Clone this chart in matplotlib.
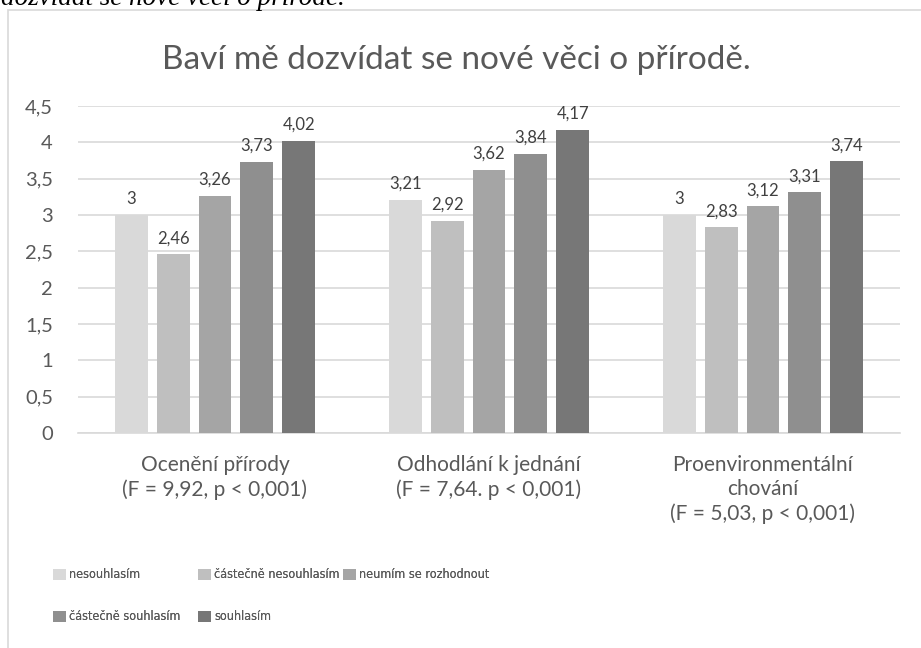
import numpy as np
import matplotlib.pyplot as plt
from matplotlib.patches import Rectangle

categories = ["Ocenění přírody\n(F = 9,92, p < 0,001)",
              "Odhodlání k jednání\n(F = 7,64. p < 0,001)",
              "Proenvironmentální\nchování\n(F = 5,03, p < 0,001)"]
series = ["nesouhlasím", "částečně nesouhlasím", "neumím se rozhodnout",
          "částečně souhlasím", "souhlasím"]
values = [
    [3, 3.21, 3],
    [2.46, 2.92, 2.83],
    [3.26, 3.62, 3.12],
    [3.73, 3.84, 3.31],
    [4.02, 4.17, 3.74],
]
labels = [
    ["3", "3,21", "3"],
    ["2,46", "2,92", "2,83"],
    ["3,26", "3,62", "3,12"],
    ["3,73", "3,84", "3,31"],
    ["4,02", "4,17", "3,74"],
]
colors = ["#d9d9d9", "#bfbfbf", "#a5a5a5", "#8f8f8f", "#777777"]
yticks = [0, 0.5, 1, 1.5, 2, 2.5, 3, 3.5, 4, 4.5]
ytick_labels = ["0", "0,5", "1", "1,5", "2", "2,5", "3", "3,5", "4", "4,5"]

plt.rcParams['font.family'] = ['Lato', 'DejaVu Sans']

fig = plt.figure(figsize=(9.21, 6.48), dpi=100)
ax = fig.add_axes([78 / 921, 1 - 433 / 648, 822 / 921, 327 / 648])

# chart frame (cut off on right and bottom)
fig.patches.append(Rectangle((8 / 921, -0.1), 1.2, 1 - 10 / 648 + 0.1,
                             transform=fig.transFigure, fill=False,
                             edgecolor="#d9d9d9", linewidth=1.2))
# clipped caption above the chart
fig.text(1 / 921, 1 - 5 / 648, "dozvídat se nové věci o přírodě.",
         family="Liberation Serif", style="italic", fontsize=19.5,
         color="black", va="baseline", ha="left")

x = np.arange(len(categories))
width = 0.12
step = 0.153
handles = []
for i, s in enumerate(series):
    pos = x + (i - 2) * step
    bars = ax.bar(pos, values[i], width, color=colors[i], label=s, zorder=3)
    handles.append(bars)
    for b, lab in zip(bars, labels[i]):
        ax.text(b.get_x() + b.get_width() / 2, b.get_height() + 0.11, lab,
                ha="center", va="bottom", fontsize=12, color="#404040")

ax.set_xlim(-0.5, 2.5)
ax.set_ylim(0, 4.5)
ax.set_yticks(yticks)
ax.set_yticklabels(ytick_labels, fontsize=14.5, color="#595959")
ax.set_xticks(x)
ax.set_xticklabels(categories, fontsize=15, color="#595959", linespacing=1.25)
ax.tick_params(length=0)
ax.tick_params(axis="y", pad=18)
ax.tick_params(axis="x", pad=16)
ax.grid(axis="y", color="#d9d9d9", linewidth=1.2, zorder=0)
for sp in ["top", "right", "left"]:
    ax.spines[sp].set_visible(False)
ax.spines["bottom"].set_color("#d9d9d9")
ax.spines["bottom"].set_linewidth(1.2)

fig.text(456 / 921, 1 - 60 / 648, "Baví mě dozvídat se nové věci o přírodě.",
         fontsize=24, color="#595959", ha="center", va="center")

# legend entries laid out on a fixed grid, row by row
leg_x = [53, 198, 343, 53, 198]
leg_y = [575, 575, 575, 617, 617]
for h, s, lx, ly in zip(handles, series, leg_x, leg_y):
    lg = fig.legend([h], [s], loc="center left",
                    bbox_to_anchor=(lx / 921, 1 - ly / 648),
                    frameon=False,
                    prop={"family": "DejaVu Sans", "stretch": "condensed", "size": 9},
                    labelcolor="#595959", handlelength=1.0, handleheight=1.0,
                    handletextpad=0.3, borderaxespad=0, borderpad=0)
    fig.add_artist(lg)

fig.savefig("out.png", dpi=100)
